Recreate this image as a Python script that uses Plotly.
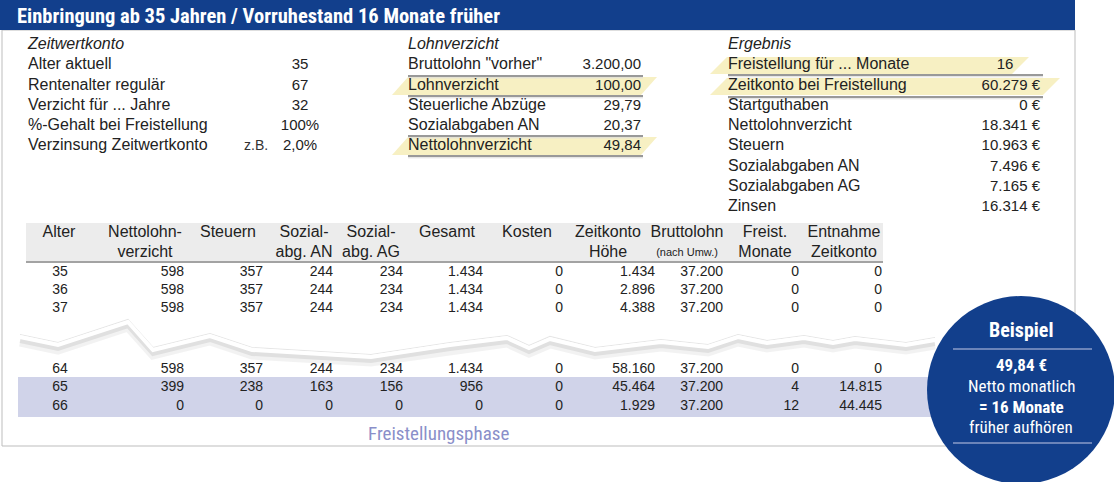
import plotly.graph_objects as go

# ---- data -------------------------------------------------------------
title = "Einbringung ab 35 Jahren / Vorruhestand 16 Monate früher"

zwk_labels = ["Alter aktuell", "Rentenalter regulär", "Verzicht für ... Jahre",
              "%-Gehalt bei Freistellung", "Verzinsung Zeitwertkonto"]
zwk_values = ["35", "67", "32", "100%", "2,0%"]

lohn_labels = ['Bruttolohn "vorher"', "Lohnverzicht", "Steuerliche Abzüge",
               "Sozialabgaben AN", "Nettolohnverzicht"]
lohn_values = [3200.00, 100.00, 29.79, 20.37, 49.84]

erg_labels = ["Freistellung für ... Monate", "Zeitkonto bei Freistellung", "Startguthaben",
              "Nettolohnverzicht", "Steuern", "Sozialabgaben AN", "Sozialabgaben AG", "Zinsen"]
erg_values = [16, 60279, 0, 18341, 10963, 7496, 7165, 16314]

tab_head_1 = ["Alter", "Nettolohn-", "Steuern", "Sozial-", "Sozial-", "Gesamt", "Kosten",
              "Zeitkonto", "Bruttolohn", "Freist.", "Entnahme"]
tab_head_2 = ["", "verzicht", "", "abg. AN", "abg. AG", "", "", "Höhe", "(nach Umw.)",
              "Monate", "Zeitkonto"]

alter = [35, 36, 37, 64, 65, 66]
nettolohn = [598, 598, 598, 598, 399, 0]
steuern = [357, 357, 357, 357, 238, 0]
sozial_an = [244, 244, 244, 244, 163, 0]
sozial_ag = [234, 234, 234, 234, 156, 0]
gesamt = [1434, 1434, 1434, 1434, 956, 0]
kosten = [0, 0, 0, 0, 0, 0]
zeitkonto = [1434, 2896, 4388, 58160, 45464, 1929]
bruttolohn = [37200, 37200, 37200, 37200, 37200, 37200]
freist_monate = [0, 0, 0, 0, 4, 12]
entnahme = [0, 0, 0, 0, 14815, 44445]

# ---- layout helpers ---------------------------------------------------
BLUE = "#123f8c"
TXT = "#222222"
BODY = "Liberation Sans, Arial, Helvetica, sans-serif"
COND = "Roboto Condensed, Liberation Sans Narrow, DejaVu Sans Condensed, Roboto, sans-serif"


def de(v, dec=0):
    s = f"{v:,.{dec}f}"
    return s.replace(",", "X").replace(".", ",").replace("X", ".")


fig = go.Figure()


def text_trace(xs, ys, texts, pos="middle left", size=15, color=TXT, family=BODY):
    fig.add_trace(go.Scatter(
        x=xs, y=ys, text=texts, mode="text", textposition=pos,
        marker=dict(size=0), hoverinfo="skip",
        textfont=dict(size=size, color=color, family=family)))


shapes = []


def hline(x0, x1, y):
    shapes.append(dict(type="line", x0=x0, x1=x1, y0=y + 1.8, y1=y + 1.8,
                       line=dict(color="#dcdcdc", width=1), layer="below"))
    shapes.append(dict(type="line", x0=x0, x1=x1, y0=y, y1=y,
                       line=dict(color="#999999", width=2), layer="below"))


def highlight(xl, xr, top, bottom, slant=16):
    shapes.append(dict(type="path",
                       path=f"M {xl} {bottom} L {xl + slant} {top} L {xr + slant} {top} L {xr} {bottom} Z",
                       fillcolor="#f7f0c3", line=dict(width=0), layer="below"))


# frame + title bar
shapes.append(dict(type="rect", x0=2, x1=1075, y0=30, y1=446,
                   line=dict(color="#bdbdbd", width=1), layer="below"))
shapes.append(dict(type="rect", x0=0, x1=1075, y0=0, y1=30,
                   fillcolor=BLUE, line=dict(width=0), layer="below"))

# ---- upper blocks -----------------------------------------------------
row_y = [65, 86, 106, 126, 146, 167, 187, 207]
LBL = 16

# Zeitwertkonto
text_trace([28], [45], ["<i>Zeitwertkonto</i>"], pos="middle right", size=LBL)
text_trace([28] * len(zwk_labels), row_y[:5], zwk_labels, pos="middle right", size=LBL)
text_trace([300] * len(zwk_values), row_y[:5], zwk_values, pos="middle center")
text_trace([244], [row_y[4]], ["z.B."], pos="middle right", size=14, color="#333333")

# Lohnverzicht
highlight(392, 641, 77, 95)
highlight(392, 641, 137, 155)
hline(408, 643, 76)
hline(408, 643, 96)
hline(408, 643, 136)
hline(408, 643, 156)
text_trace([408], [45], ["<i>Lohnverzicht</i>"], pos="middle right", size=LBL)
text_trace([408] * len(lohn_labels), row_y[:5], lohn_labels, pos="middle right", size=LBL)
text_trace([641] * len(lohn_values), row_y[:5], [de(v, 2) for v in lohn_values])

# Ergebnis
highlight(710, 1012, 57, 74, slant=17)
highlight(710, 1043, 78, 95, slant=17)
hline(728, 1043, 75)
hline(728, 1043, 97)
text_trace([728], [45], ["<i>Ergebnis</i>"], pos="middle right", size=LBL)
text_trace([728] * len(erg_labels), row_y, erg_labels, pos="middle right", size=LBL)
text_trace([1005], [row_y[0]], [str(erg_values[0])], pos="middle center")
text_trace([1040] * (len(erg_values) - 1), row_y[1:len(erg_values)],
           [de(v) + " €" for v in erg_values[1:]])

# ---- table ------------------------------------------------------------
tab_rows = [272, 290, 308, 369, 387, 406]
head_cx = [59, 145, 228, 304, 371, 447, 527, 608, 687, 765, 844]
col_right = [None, 184, 263, 333, 403, 483, 563, 655, 723, 799, 882]
columns = [alter, nettolohn, steuern, sozial_an, sozial_ag, gesamt, kosten,
           zeitkonto, bruttolohn, freist_monate, entnahme]

shapes.append(dict(type="rect", x0=26, x1=883, y0=223, y1=262,
                   fillcolor="#ececec", line=dict(width=0), layer="below"))
shapes.append(dict(type="line", x0=26, x1=883, y0=262, y1=262,
                   line=dict(color="#a3a3a3", width=2), layer="below"))
shapes.append(dict(type="rect", x0=18, x1=1000, y0=377, y1=417,
                   fillcolor="#d0d3e9", line=dict(width=0), layer="below"))

text_trace(head_cx, [233] * len(head_cx), tab_head_1, pos="middle center", size=16)
h2_sizes = [11 if t.startswith("(") else 16 for t in tab_head_2]
for cx, t, s in zip(head_cx, tab_head_2, h2_sizes):
    if t:
        text_trace([cx], [253], [t], pos="middle center", size=s)

text_trace([60] * len(alter), tab_rows, [str(a) for a in alter], pos="middle center", size=14)
for xr, col in zip(col_right[1:], columns[1:]):
    text_trace([xr] * len(col), tab_rows, [de(v) for v in col], size=14)

# torn-paper gap between row 37 and row 64
tear_x = [20, 58, 128, 153, 210, 252, 371, 450, 507, 529, 550, 595, 661, 708, 738, 767,
          804, 833, 855, 906, 935]
tear_y = [337, 345, 322, 350, 336, 350, 357, 345, 338, 348, 339, 350, 342, 347, 337, 343,
          338, 343, 339, 345, 340]
for dy, w, c in [(5, 9, "rgba(0,0,0,0.05)"), (3.5, 5, "rgba(0,0,0,0.07)"),
                 (-2.5, 1.2, "#e6e6e6"), (0, 4, "#ffffff")]:
    fig.add_trace(go.Scatter(x=tear_x, y=[v + dy for v in tear_y], mode="lines",
                             line=dict(color=c, width=w), hoverinfo="skip"))

annotations = [
    dict(x=15, y=16, text=f"<b>{title}</b>", xanchor="left", yanchor="middle",
         font=dict(size=20.5, color="white", family=COND)),
    dict(x=438, y=433, text="Freistellungsphase", xanchor="center", yanchor="middle",
         font=dict(size=19, color="#8a8fc9", family=COND)),
]

# ---- Beispiel circle ---------------------------------------------------
shapes.append(dict(type="circle", x0=927, x1=1115, y0=296, y1=484,
                   fillcolor=BLUE, line=dict(width=0), layer="above"))
for yl in (349, 443):
    shapes.append(dict(type="line", x0=953, x1=1092, y0=yl, y1=yl,
                       line=dict(color="#8a9dc8", width=1.5), layer="above"))
circle_lines = [("<b>Beispiel</b>", 330, 20),
                (f"<b>{de(lohn_values[4], 2)} €</b>", 365, 17),
                ("Netto monatlich", 386, 17),
                (f"<b>= {erg_values[0]} Monate</b>", 407, 17),
                ("früher aufhören", 427, 17)]
for t, yy, s in circle_lines:
    annotations.append(dict(x=1021, y=yy, text=t, xanchor="center", yanchor="middle",
                            font=dict(size=s, color="white", family=COND)))

for a in annotations:
    a.update(xref="x", yref="y", showarrow=False)

fig.update_layout(
    width=1114, height=482,
    margin=dict(l=0, r=0, t=0, b=0),
    paper_bgcolor="white", plot_bgcolor="white",
    showlegend=False,
    xaxis=dict(range=[0, 1114], visible=False, fixedrange=True),
    yaxis=dict(range=[482, 0], visible=False, fixedrange=True),
    shapes=shapes,
    annotations=annotations,
)

fig.write_html("out.html", config={"displayModeBar": False},
               post_script="document.body.style.margin='0';document.body.style.overflow='hidden';")
